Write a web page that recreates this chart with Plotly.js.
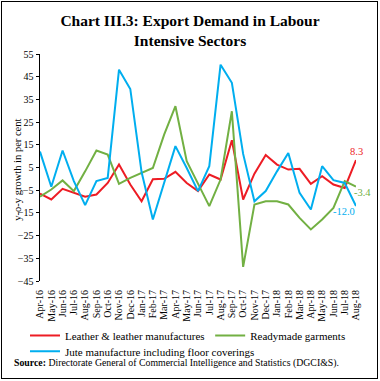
<!DOCTYPE html>
<html>
<head>
<meta charset="utf-8">
<script src="https://cdn.plot.ly/plotly-3.0.1.min.js"></script>
<style>
  html, body { margin: 0; padding: 0; background: #fff; }
  #wrap { position: relative; width: 380px; height: 381px; }
  #chart { position: absolute; left: 0; top: 0; width: 380px; height: 381px; }
  #frame { position: absolute; left: 1px; top: 1px; width: 375px; height: 376px; border: 1.3px solid #000; pointer-events: none; }
</style>
</head>
<body>
<div id="wrap"><div id="chart"></div><div id="frame"></div></div>
<script>
const months = ["Apr-16","May-16","Jun-16","Jul-16","Aug-16","Sep-16","Oct-16","Nov-16","Dec-16","Jan-17","Feb-17","Mar-17","Apr-17","May-17","Jun-17","Jul-17","Aug-17","Sep-17","Oct-17","Nov-17","Dec-17","Jan-18","Feb-18","Mar-18","Apr-18","May-18","Jun-18","Jul-18","Aug-18"];

const leather = [-6.5,-9.1,-4.4,-6.2,-7.9,-6.9,-1.8,6.3,-2.5,-9.9,-0.2,0.0,3.1,-1.8,-5.4,1.9,-0.3,17.0,-9.1,2.3,10.5,6.3,4.1,4.4,-2.2,1.2,-2.5,-4.0,8.3];
const garments = [-7.9,-4.7,-0.7,-5.4,3.3,12.5,10.7,-2.2,0.4,2.6,4.8,19.5,32.0,7.8,-1.8,-12.0,-0.3,29.8,-38.8,-11.3,-9.9,-9.9,-11.3,-17.2,-22.3,-17.9,-12.8,-1.0,-3.4];
const jute = [12.0,-3.5,12.5,-1.0,-11.6,-1.0,0.4,48.1,39.6,3.0,-17.9,-1.5,14.4,4.8,-5.4,5.6,50.3,42.3,11.0,-9.9,-5.4,3.3,11.4,-6.2,-13.5,5.6,-0.6,-1.8,-12.0];

const seriesNames = ["Leather & leather manufactures","Readymade garments","Jute manufacture including floor coverings"];
const colors = ["#ED1C24","#72B043","#00AEEF"];
const legendIds = ["legend","legend2","legend3"];
const yTitle = "y-o-y growth in per cent";

const serif = "Liberation Serif, Times New Roman, serif";

const traces = [leather, garments, jute].map((vals, i) => ({
  type: "scatter", mode: "lines",
  x: months, y: vals, name: seriesNames[i],
  line: { color: colors[i], width: 2 },
  legend: legendIds[i],
  hoverinfo: "skip"
}));

const last = months.length - 1;
const legendFont = { family: serif, size: 11, color: "#000" };

const layout = {
  width: 380, height: 381,
  margin: { l: 40, r: 24, t: 54, b: 100, autoexpand: false },
  paper_bgcolor: "#fff", plot_bgcolor: "#fff",
  showlegend: true,
  font: { family: serif, color: "#000", size: 10 },
  title: {
    text: "<b>Chart III.3: Export Demand in Labour<br>Intensive Sectors</b>",
    font: { family: serif, size: 15.5, color: "#000" },
    x: 0.5, xanchor: "center", xref: "container",
    y: 0.932, yanchor: "top", yref: "container"
  },
  xaxis: {
    type: "category", categoryarray: months, range: [0, last],
    tickmode: "array", tickvals: months, ticktext: months,
    showline: false, ticks: "", showgrid: false, zeroline: false,
    tickangle: -90, tickfont: { family: serif, size: 10, color: "#000" },
    ticklabelstandoff: 6, automargin: false
  },
  xaxis2: {
    type: "linear", range: [0, last], overlaying: "x", anchor: "free", position: 0.45,
    showline: true, linecolor: "#000", linewidth: 1.5,
    ticks: "outside", ticklen: 4, tickwidth: 1, tickcolor: "#000",
    dtick: 1, tick0: 0, showticklabels: false, showgrid: false, zeroline: false
  },
  yaxis: {
    range: [-45, 55], tick0: -45, dtick: 10,
    showline: true, linecolor: "#000", linewidth: 1.5,
    ticks: "outside", ticklen: 3, tickcolor: "#000",
    showgrid: false, zeroline: false, automargin: false,
    tickfont: { family: serif, size: 10, color: "#000" }
  },
  legend:  { orientation: "h", x: -0.0475, xanchor: "left", y: -0.24, yanchor: "middle", font: legendFont, bgcolor: "rgba(0,0,0,0)" },
  legend2: { orientation: "h", x: 0.5385, xanchor: "left", y: -0.24, yanchor: "middle", font: legendFont, bgcolor: "rgba(0,0,0,0)" },
  legend3: { orientation: "h", x: -0.0475, xanchor: "left", y: -0.31, yanchor: "middle", font: legendFont, bgcolor: "rgba(0,0,0,0)" },
  annotations: [
    { xref: "paper", yref: "paper", x: -0.07, y: 0.49, xanchor: "center", yanchor: "middle",
      textangle: -90, showarrow: false, text: yTitle,
      font: { family: serif, size: 10.5, color: "#000" } },
    { xref: "x", yref: "y", x: months[last], y: leather[last], text: leather[last].toFixed(1),
      showarrow: false, xanchor: "center", yanchor: "bottom", yshift: 1,
      font: { family: serif, size: 10.5, color: colors[0] } },
    { xref: "x", yref: "y", x: months[last], y: garments[last], text: garments[last].toFixed(1),
      showarrow: false, xanchor: "left", yanchor: "middle", xshift: -4, yshift: -6,
      font: { family: serif, size: 10.5, color: colors[1] } },
    { xref: "x", yref: "y", x: months[last], y: jute[last], text: jute[last].toFixed(1),
      showarrow: false, xanchor: "right", yanchor: "middle", xshift: 1, yshift: -5,
      font: { family: serif, size: 10.5, color: colors[2] } },
    { xref: "paper", yref: "paper", x: -0.089, y: -0.361, xanchor: "left", yanchor: "middle",
      showarrow: false, align: "left",
      text: "<b>Source:</b> Directorate General of Commercial Intelligence and Statistics (DGCI&S).",
      font: { family: serif, size: 9.8, color: "#000" } }
  ]
};

Plotly.newPlot("chart", traces, layout, { displayModeBar: false, staticPlot: true });
</script>
</body>
</html>
